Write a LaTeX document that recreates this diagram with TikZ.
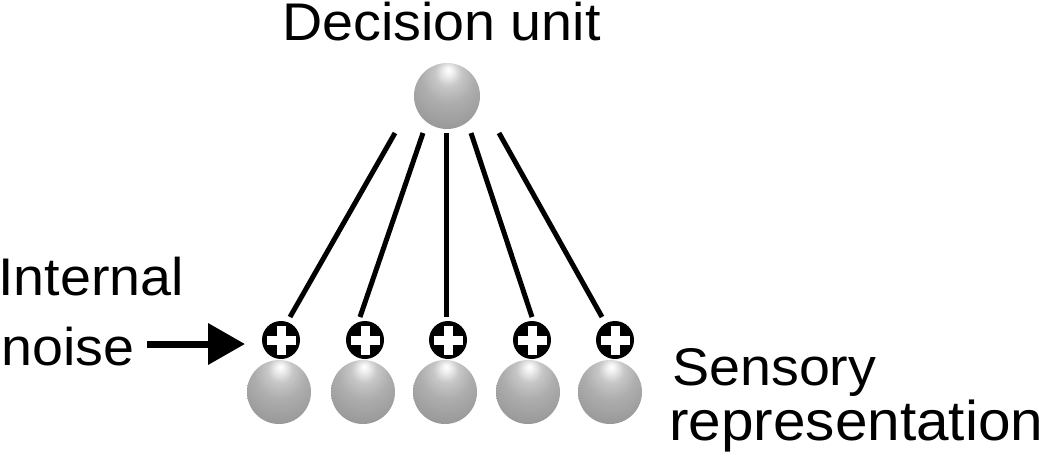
\documentclass[tikz,border=0pt]{standalone}
\usepackage{fontspec}
\setmainfont{Liberation Sans}
\usetikzlibrary{arrows.meta}
\pgfdeclareradialshading{sphereshade}{\pgfpoint{1bp}{20bp}}{%
  color(0bp)=(white);
  color(3bp)=(black!5);
  color(10bp)=(black!22);
  color(20bp)=(black!32);
  color(35bp)=(black!40);
  color(50bp)=(black!45);
  color(65bp)=(black!50);
  color(75bp)=(black!45)}
\tikzset{
  sphere/.style={circle, minimum size=64pt, inner sep=0pt, shading=sphereshade},
  bigsphere/.style={circle, minimum size=66pt, inner sep=0pt, shading=sphereshade},
  plusnode/.style={circle, fill=black, minimum size=38pt, inner sep=0pt},
  plusbar/.style={white, line width=9pt, line cap=butt},
  link/.style={line width=5pt, black},
  noisearrow/.style={line width=7pt, -{Triangle[length=37pt,width=40pt]}},
  lbl/.style={inner sep=0pt, anchor=base west, xscale=1.05, font=\fontsize{53}{60}\selectfont},
  lblbig/.style={inner sep=0pt, anchor=base west, xscale=1.045, font=\fontsize{56}{62}\selectfont}
}
\begin{document}
\begin{tikzpicture}[x=1pt,y=-1pt]
\useasboundingbox (0,0) rectangle (1050,467);
% texts
\node[lbl] (title) at (282,40) {Decision unit};
\node[lbl] (internal) at (-2,295) {Internal};
\node[lbl] (noise) at (1.5,365) {noise};
\node[lbl] (sensory) at (672,385) {Sensory};
\node[lblbig] (repr) at (669,440) {representation};
% decision unit
\node[bigsphere] (d) at (447,96) {};
% plus nodes
\node[plusnode] (p1) at (281,340) {};
\node[plusnode] (p2) at (365,340) {};
\node[plusnode] (p3) at (448,340) {};
\node[plusnode] (p4) at (532,340) {};
\node[plusnode] (p5) at (615,340) {};
\foreach \p in {p1,p2,p3,p4,p5} {
  \draw[plusbar] ([xshift=-14.5pt]\p.center) -- ([xshift=14.5pt]\p.center);
  \draw[plusbar] ([yshift=-14.5pt]\p.center) -- ([yshift=14.5pt]\p.center);
}
% sensory spheres
\node[sphere] (s1) at (279,392) {};
\node[sphere] (s2) at (363,392) {};
\node[sphere] (s3) at (445,392) {};
\node[sphere] (s4) at (528,392) {};
\node[sphere] (s5) at (610,392) {};
% connector ends
\coordinate (t1) at (395,133); \coordinate (b1) at (290,317);
\coordinate (t2) at (423,133); \coordinate (b2) at (360,317);
\coordinate (t3) at (446,133); \coordinate (b3) at (446,317);
\coordinate (t4) at (471,133); \coordinate (b4) at (532,317);
\coordinate (t5) at (499,133); \coordinate (b5) at (602,317);
\draw[link] (t1) -- (b1);
\draw[link] (t2) -- (b2);
\draw[link] (t3) -- (b3);
\draw[link] (t4) -- (b4);
\draw[link] (t5) -- (b5);
% arrow
\coordinate (ns) at (147,344);
\coordinate (ne) at (245,344);
\draw[noisearrow] (ns) -- (ne);
\end{tikzpicture}
\end{document}
